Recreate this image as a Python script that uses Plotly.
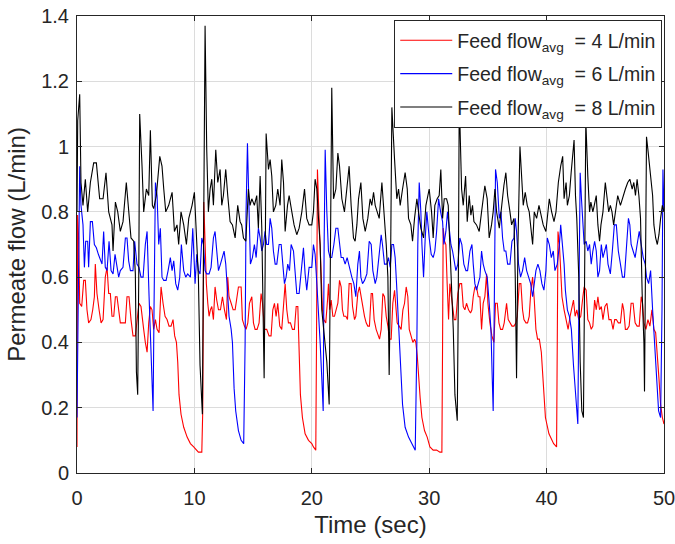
import plotly.graph_objects as go

# ---------------- data ----------------
black_t = [0.0, 0.06, 0.23, 0.34, 0.51, 0.71, 0.91, 1.14, 1.42, 1.65,
           1.93, 2.22, 2.47, 2.70, 2.98, 3.07, 3.27, 3.47, 3.69, 3.92,
           4.20, 4.40, 4.60, 4.83, 4.97, 5.06, 5.17, 5.26, 5.34, 5.54,
           5.68, 5.91, 6.11, 6.25, 6.42, 6.53, 6.76, 7.05, 7.24, 7.39,
           7.56, 7.81, 8.10, 8.30, 8.52, 8.66, 8.86, 9.09, 9.32, 9.52,
           9.80, 10.0,
           10.34, 10.48, 10.68, 10.91, 11.05, 11.19, 11.34, 11.48, 11.62, 11.82,
           11.99, 12.19, 12.33, 12.47, 12.67, 12.84, 13.04, 13.24, 13.47, 13.69,
           13.89, 14.03, 14.18, 14.38, 14.60, 14.74, 14.89, 15.11, 15.31, 15.45,
           15.60, 15.74, 15.82, 15.94, 16.02, 16.11, 16.31, 16.45, 16.59, 16.73,
           16.93, 17.10, 17.30, 17.44, 17.59, 17.73, 17.93, 18.07, 18.30, 18.49,
           18.72, 18.92, 19.15, 19.38, 19.57, 19.77,
           20.0, 20.14, 20.28, 20.43, 20.57, 20.71, 20.85, 21.08, 21.28, 21.48,
           21.59, 21.70, 21.85, 22.05, 22.22, 22.36, 22.56, 22.78, 22.98, 23.18,
           23.35, 23.55, 23.69, 23.84, 23.98, 24.18, 24.35, 24.55, 24.77, 24.97,
           25.11, 25.26, 25.40, 25.60, 25.74, 25.97, 26.19, 26.34, 26.48, 26.59,
           26.70, 26.82, 27.05, 27.24, 27.39, 27.53, 27.73, 27.95, 28.13, 28.24,
           28.44, 28.58, 28.75, 28.95, 29.09, 29.29, 29.52, 29.72,
           30.0, 30.2, 30.34, 30.48, 30.68, 30.85, 30.99, 31.14, 31.28, 31.48,
           31.62, 31.76, 31.90, 32.05, 32.19, 32.39, 32.47, 32.56, 32.76, 32.90,
           33.10, 33.24, 33.41, 33.55, 33.69, 33.81, 34.03, 34.26, 34.46, 34.60,
           34.74, 34.94, 35.11, 35.31, 35.45, 35.60, 35.74, 35.97, 36.16, 36.36,
           36.53, 36.68, 36.88, 37.02, 37.22, 37.33, 37.44, 37.56, 37.73, 37.87,
           38.01, 38.18, 38.35, 38.52, 38.66, 38.81, 38.95, 39.15, 39.35, 39.57,
           39.71, 39.94, 40.06, 40.23, 40.43, 40.63, 40.80, 41.00, 41.20, 41.37,
           41.49, 41.66, 41.77, 41.94, 42.09, 42.23, 42.34, 42.46, 42.57, 42.74,
           42.86, 43.00, 43.14, 43.26, 43.34, 43.51, 43.66, 43.77, 43.94, 44.06,
           44.23, 44.37, 44.51, 44.63, 44.80, 45.00, 45.14, 45.29, 45.43, 45.57,
           45.71, 45.86, 46.06, 46.29, 46.51, 46.71, 46.91, 47.09, 47.29, 47.43,
           47.57, 47.71, 47.86, 48.00, 48.14, 48.29, 48.34, 48.43, 48.51, 48.63,
           48.80, 48.91, 49.03, 49.14, 49.29, 49.43, 49.57, 49.71, 49.86, 50.0]
black_v = [0.80, 1.08, 1.16, 0.89, 0.82, 0.90, 0.80, 0.89, 0.95, 0.95,
           0.84, 0.84, 0.92, 0.80, 0.76, 0.68, 0.83, 0.80, 0.74, 0.77,
           0.89, 0.80, 0.72, 0.71, 0.61, 0.31, 0.24, 0.60, 1.10, 0.94,
           0.80, 0.87, 0.85, 1.05, 0.82, 0.81, 0.85, 0.97, 0.94, 0.87,
           0.80, 0.82, 0.86, 0.74, 0.76, 0.70, 0.80, 0.76, 0.70, 0.78,
           0.82, 0.86,
           0.60, 0.33, 0.18, 1.37, 0.99, 0.80, 0.87, 0.90, 0.82, 0.99,
           0.89, 0.93, 0.82, 0.85, 0.93, 0.85, 0.77, 0.76, 0.72, 0.82,
           0.77, 0.76, 0.72, 0.71, 0.87, 0.82, 0.84, 0.82, 0.85, 0.75,
           0.91, 0.75, 0.50, 0.29, 0.60, 1.04, 0.93, 0.96, 0.91, 0.80,
           0.82, 0.87, 0.82, 0.96, 0.89, 0.74, 0.82, 0.85, 0.80, 0.76,
           0.73, 0.75, 0.80, 0.87, 0.78, 0.76,
           0.76, 0.80, 0.90, 0.87, 0.78, 0.70, 0.50, 0.41, 0.34, 0.21,
           0.70, 1.18, 0.84, 0.87, 0.98, 0.94, 0.84, 0.80, 0.87, 0.94,
           0.82, 0.72, 0.71, 0.76, 0.84, 0.89, 0.78, 0.74, 0.78, 0.84,
           0.82, 0.86, 0.82, 0.80, 0.78, 0.89, 0.78, 0.70, 0.60, 0.30,
           0.60, 1.12, 0.96, 0.84, 0.87, 0.82, 0.87, 0.92, 0.87, 0.78,
           0.76, 0.71, 0.78, 0.84, 0.80, 0.75, 0.72, 0.82,
           0.87, 0.80, 0.72, 0.82, 0.84, 0.85, 0.93, 0.78, 0.84, 0.84,
           0.82, 0.70, 0.60, 0.44, 0.24, 0.16, 0.50, 1.15, 0.87, 0.82,
           0.91, 0.77, 0.85, 0.79, 0.82, 0.77, 0.76, 0.74, 0.80, 0.84,
           0.88, 0.84, 0.72, 0.76, 0.80, 0.87, 0.80, 0.75, 0.82, 0.88,
           0.92, 0.85, 0.80, 0.76, 0.78, 0.60, 0.29, 0.70, 1.00, 0.91,
           0.82, 0.86, 0.82, 0.80, 0.74, 0.70, 0.80, 0.78, 0.82, 0.78,
           0.76, 0.74, 0.78, 0.84, 0.80, 0.77, 0.80, 0.89, 0.94, 0.97,
           0.84, 0.89, 0.82, 0.85, 0.92, 0.97, 1.02, 0.85, 0.78, 0.60,
           0.34, 0.19, 0.17, 0.70, 1.08, 0.91, 0.80, 0.83, 0.80, 0.82,
           0.85, 0.76, 0.71, 0.76, 0.80, 0.89, 0.85, 0.80, 0.82, 0.80,
           0.76, 0.80, 0.85, 0.82, 0.85, 0.87, 0.89, 0.90, 0.87, 0.89,
           0.85, 0.90, 0.85, 0.78, 0.55, 0.40, 0.25, 0.70, 1.03, 0.99,
           0.93, 0.89, 0.85, 0.76, 0.72, 0.70, 0.73, 0.78, 0.82, 0.80]

blue_t = [0.0, 0.23, 0.34, 0.51, 0.63, 0.74, 0.91, 0.99, 1.14, 1.31,
          1.48, 1.65, 1.82, 1.93, 2.13, 2.27, 2.41, 2.56, 2.73, 2.90,
          3.07, 3.24, 3.41, 3.55, 3.69, 3.92, 4.12, 4.26, 4.40, 4.55,
          4.77, 4.91, 5.11, 5.28, 5.45, 5.63, 5.82, 5.97, 6.14, 6.25,
          6.36, 6.48, 6.56, 6.68, 6.82, 6.96, 7.10, 7.24, 7.39, 7.59,
          7.76, 7.95, 8.10, 8.24, 8.41, 8.58, 8.75, 8.89, 9.09, 9.26,
          9.43, 9.66, 9.86,
          10.06, 10.20, 10.34, 10.48, 10.63, 10.77, 10.91, 11.05, 11.25, 11.42,
          11.62, 11.76, 11.90, 12.05, 12.22, 12.39, 12.53, 12.67, 12.81, 12.95,
          13.13, 13.24, 13.38, 13.52, 13.75, 13.98, 14.20, 14.32, 14.40, 14.52,
          14.66, 14.77, 14.94, 15.11, 15.26, 15.45, 15.60, 15.74, 15.88, 16.02,
          16.16, 16.31, 16.45, 16.59, 16.73, 16.88, 17.02, 17.22, 17.39, 17.53,
          17.67, 17.81, 17.95, 18.10, 18.24, 18.44, 18.58, 18.72, 18.92, 19.09,
          19.29, 19.43, 19.57, 19.77,
          20.0, 20.14, 20.28, 20.43, 20.57, 20.71, 20.85, 20.97, 21.05, 21.14,
          21.28, 21.42, 21.56, 21.70, 21.88, 22.05, 22.22, 22.36, 22.50, 22.67,
          22.84, 23.01, 23.13, 23.27, 23.41, 23.58, 23.75, 23.92, 24.06, 24.18,
          24.32, 24.49, 24.69, 24.89, 25.06, 25.20, 25.40, 25.54, 25.74, 25.91,
          26.02, 26.19, 26.39, 26.53, 26.68, 26.82, 26.96, 27.10, 27.22, 27.33,
          27.44, 27.59, 27.73, 27.95, 28.24, 28.52, 28.81, 28.95, 29.03, 29.15,
          29.29, 29.38, 29.52, 29.66, 29.80,
          30.0, 30.17, 30.34, 30.48, 30.63, 30.80, 30.97, 31.14, 31.25, 31.42,
          31.56, 31.70, 31.85, 31.99, 32.10, 32.27, 32.44, 32.61, 32.78, 32.95,
          33.13, 33.27, 33.47, 33.64, 33.75, 33.89, 34.03, 34.18, 34.32, 34.46,
          34.60, 34.74, 34.94, 35.11, 35.26, 35.37, 35.45, 35.54, 35.65, 35.80,
          35.97, 36.11, 36.25, 36.39, 36.53, 36.68, 36.88, 37.05, 37.22, 37.33,
          37.44, 37.61, 37.78, 37.95, 38.13, 38.30, 38.47, 38.64, 38.81, 38.95,
          39.09, 39.26, 39.43, 39.60, 39.77, 39.94,
          40.06, 40.23, 40.40, 40.57, 40.71, 40.91, 41.09, 41.20, 41.37, 41.49,
          41.60, 41.77, 41.94, 42.11, 42.29, 42.46, 42.66, 42.77, 42.86, 42.97,
          43.09, 43.20, 43.37, 43.51, 43.66, 43.80, 43.94, 44.09, 44.23, 44.37,
          44.51, 44.66, 44.80, 44.94, 45.09, 45.23, 45.43, 45.60, 45.77, 45.94,
          46.11, 46.29, 46.46, 46.63, 46.80, 46.97, 47.09, 47.20, 47.37, 47.54,
          47.71, 47.89, 48.06, 48.23, 48.40, 48.51, 48.69, 48.86, 49.03, 49.20,
          49.37, 49.54, 49.71, 49.83, 49.91, 50.0]
blue_v = [0.17, 0.94, 0.82, 0.76, 0.63, 0.71, 0.71, 0.63, 0.77, 0.77,
          0.70, 0.69, 0.67, 0.66, 0.64, 0.74, 0.63, 0.62, 0.71, 0.62,
          0.61, 0.67, 0.63, 0.60, 0.62, 0.63, 0.72, 0.72, 0.65, 0.62,
          0.62, 0.71, 0.64, 0.63, 0.60, 0.60, 0.70, 0.74, 0.54, 0.40,
          0.29, 0.19, 0.50, 0.89, 0.85, 0.70, 0.75, 0.60, 0.59, 0.59,
          0.62, 0.66, 0.62, 0.65, 0.58, 0.56, 0.60, 0.70, 0.62, 0.60,
          0.61, 0.60, 0.75,
          0.58, 0.67, 0.62, 0.61, 0.72, 0.70, 0.62, 0.61, 0.61, 0.63,
          0.72, 0.74, 0.67, 0.62, 0.64, 0.66, 0.68, 0.64, 0.54, 0.48,
          0.44, 0.40, 0.26, 0.19, 0.13, 0.10, 0.09, 0.40, 0.80, 1.01,
          0.80, 0.64, 0.66, 0.70, 0.66, 0.75, 0.72, 0.68, 0.70, 0.74,
          0.70, 0.70, 0.78, 0.75, 0.68, 0.64, 0.64, 0.70, 0.70, 0.64,
          0.58, 0.60, 0.64, 0.62, 0.70, 0.68, 0.62, 0.55, 0.55, 0.62,
          0.69, 0.61, 0.56, 0.63,
          0.63, 0.70, 0.67, 0.58, 0.50, 0.40, 0.29, 0.19, 0.70, 0.99,
          0.80, 0.68, 0.66, 0.66, 0.70, 0.75, 0.75, 0.70, 0.66, 0.66,
          0.64, 0.66, 0.64, 0.62, 0.60, 0.58, 0.54, 0.64, 0.68, 0.60,
          0.58, 0.59, 0.61, 0.71, 0.70, 0.62, 0.58, 0.60, 0.66, 0.73,
          0.70, 0.64, 0.64, 0.66, 0.63, 0.70, 0.70, 0.66, 0.58, 0.50,
          0.40, 0.29, 0.21, 0.14, 0.11, 0.09, 0.07, 0.40, 0.70, 0.89,
          0.80, 0.70, 0.60, 0.72, 0.80,
          0.72, 0.67, 0.66, 0.68, 0.74, 0.84, 0.80, 0.77, 0.70, 0.74,
          0.80, 0.76, 0.70, 0.68, 0.66, 0.62, 0.64, 0.72, 0.70, 0.64,
          0.62, 0.62, 0.68, 0.70, 0.64, 0.58, 0.56, 0.58, 0.60, 0.68,
          0.64, 0.62, 0.60, 0.52, 0.44, 0.29, 0.19, 0.50, 0.93, 0.89,
          0.78, 0.80, 0.72, 0.68, 0.68, 0.64, 0.64, 0.71, 0.72, 0.78,
          0.74, 0.64, 0.60, 0.62, 0.66, 0.62, 0.60, 0.58, 0.54, 0.58,
          0.62, 0.64, 0.62, 0.58, 0.56, 0.62,
          0.72, 0.70, 0.66, 0.68, 0.62, 0.64, 0.70, 0.76, 0.70, 0.64,
          0.56, 0.50, 0.48, 0.44, 0.33, 0.24, 0.15, 0.60, 0.92, 0.84,
          0.76, 0.70, 0.71, 0.68, 0.70, 0.64, 0.68, 0.71, 0.68, 0.60,
          0.62, 0.70, 0.66, 0.68, 0.70, 0.64, 0.61, 0.68, 0.76, 0.76,
          0.68, 0.64, 0.60, 0.60, 0.70, 0.78, 0.76, 0.70, 0.68, 0.66,
          0.70, 0.74, 0.70, 0.66, 0.64, 0.60, 0.58, 0.62, 0.50, 0.40,
          0.29, 0.19, 0.17, 0.50, 0.93, 0.80]

red_t = [0.0, 0.05, 0.14, 0.23, 0.40, 0.57, 0.71, 0.85, 0.99, 1.19,
         1.34, 1.48, 1.56, 1.70, 1.88, 2.05, 2.22, 2.41, 2.56, 2.70,
         2.84, 2.98, 3.13, 3.27, 3.41, 3.55, 3.69, 3.92, 4.12, 4.26,
         4.43, 4.60, 4.77, 4.97, 5.11, 5.28, 5.45, 5.57, 5.68, 5.82,
         5.97, 6.11, 6.25, 6.39, 6.53, 6.68, 6.82, 6.99, 7.16, 7.33,
         7.50, 7.67, 7.84, 8.01, 8.18, 8.32, 8.47, 8.58, 8.69, 8.86,
         9.09, 9.38, 9.66, 9.94,
         10.34, 10.63, 10.71, 10.80, 10.91, 11.02, 11.14, 11.25, 11.36, 11.48,
         11.62, 11.76, 11.90, 12.05, 12.22, 12.39, 12.56, 12.73, 12.84, 12.95,
         13.13, 13.30, 13.47, 13.61, 13.75, 13.98, 14.09, 14.26, 14.40, 14.55,
         14.69, 14.89, 15.03, 15.17, 15.34, 15.51, 15.68, 15.80, 15.97, 16.16,
         16.36, 16.53, 16.68, 16.82, 16.96, 17.10, 17.27, 17.44, 17.61, 17.73,
         17.87, 18.01, 18.18, 18.35, 18.52, 18.67, 18.81, 18.92, 19.03, 19.20,
         19.43, 19.72, 20.00,
         20.14, 20.34, 20.40, 20.48, 20.60, 20.71, 20.80, 20.91, 21.02, 21.19,
         21.34, 21.42, 21.53, 21.65, 21.79, 21.93, 22.07, 22.22, 22.36, 22.50,
         22.61, 22.73, 22.90, 23.04, 23.18, 23.35, 23.47, 23.64, 23.75, 23.92,
         24.06, 24.20, 24.35, 24.49, 24.63, 24.77, 24.91, 25.06, 25.17, 25.31,
         25.48, 25.63, 25.77, 25.91, 26.05, 26.19, 26.34, 26.48, 26.62, 26.76,
         26.90, 27.05, 27.16, 27.27, 27.44, 27.61, 27.76, 27.90, 28.04, 28.18,
         28.30, 28.47, 28.61, 28.75, 28.86, 28.98, 29.09, 29.23, 29.38, 29.60,
         29.83,
         30.06, 30.34, 30.63, 30.91, 31.08, 31.14, 31.19, 31.31, 31.42, 31.53,
         31.65, 31.76, 31.88, 31.99, 32.13, 32.27, 32.44, 32.61, 32.76, 32.90,
         33.04, 33.18, 33.35, 33.52, 33.64, 33.75, 33.89, 34.03, 34.18, 34.32,
         34.46, 34.60, 34.74, 34.89, 35.00, 35.17, 35.34, 35.51, 35.65, 35.80,
         35.94, 36.08, 36.25, 36.39, 36.59, 36.73, 36.88, 37.05, 37.22, 37.39,
         37.50, 37.67, 37.81, 37.95, 38.07, 38.24, 38.38, 38.52, 38.66, 38.81,
         38.95, 39.09, 39.23, 39.38, 39.55, 39.70, 39.90, 40.20, 40.60, 40.85,
         40.97, 41.09, 41.20, 41.31, 41.49, 41.66, 41.83, 42.00, 42.14, 42.29,
         42.43, 42.57, 42.74, 42.91, 43.09, 43.20, 43.37, 43.51, 43.66, 43.80,
         43.94, 44.09, 44.23, 44.37, 44.51, 44.66, 44.80, 44.97, 45.14, 45.31,
         45.49, 45.66, 45.80, 45.94, 46.11, 46.29, 46.46, 46.57, 46.71, 46.86,
         47.03, 47.20, 47.37, 47.54, 47.71, 47.89, 48.06, 48.17, 48.29, 48.46,
         48.63, 48.80, 48.97, 49.14, 49.29, 49.43, 49.57, 49.71, 49.86, 50.0]
red_v = [0.08, 0.79, 0.72, 0.52, 0.51, 0.59, 0.59, 0.50, 0.46, 0.47,
         0.50, 0.54, 0.64, 0.55, 0.50, 0.46, 0.47, 0.60, 0.63, 0.55,
         0.55, 0.48, 0.48, 0.54, 0.54, 0.50, 0.46, 0.46, 0.46, 0.54,
         0.54, 0.47, 0.42, 0.42, 0.47, 0.52, 0.51, 0.46, 0.44, 0.40,
         0.37, 0.46, 0.51, 0.50, 0.44, 0.47, 0.44, 0.43, 0.57, 0.52,
         0.48, 0.47, 0.45, 0.45, 0.47, 0.42, 0.40, 0.34, 0.24, 0.18,
         0.14, 0.11, 0.09, 0.08,
         0.064, 0.064, 0.19, 0.83, 0.70, 0.58, 0.52, 0.48, 0.50, 0.51,
         0.47, 0.57, 0.53, 0.50, 0.50, 0.54, 0.50, 0.47, 0.60, 0.54,
         0.52, 0.50, 0.50, 0.54, 0.57, 0.57, 0.47, 0.45, 0.44, 0.46,
         0.52, 0.54, 0.46, 0.44, 0.44, 0.46, 0.55, 0.52, 0.44, 0.44,
         0.42, 0.42, 0.50, 0.52, 0.48, 0.52, 0.45, 0.44, 0.52, 0.58,
         0.50, 0.46, 0.46, 0.44, 0.44, 0.51, 0.51, 0.34, 0.24, 0.17,
         0.12, 0.10, 0.09,
         0.08, 0.07, 0.40, 0.93, 0.80, 0.68, 0.55, 0.50, 0.47, 0.46,
         0.53, 0.58, 0.50, 0.53, 0.48, 0.48, 0.50, 0.52, 0.59, 0.57,
         0.50, 0.48, 0.48, 0.47, 0.58, 0.58, 0.51, 0.47, 0.48, 0.55,
         0.57, 0.54, 0.50, 0.48, 0.46, 0.45, 0.45, 0.55, 0.55, 0.47,
         0.44, 0.42, 0.41, 0.44, 0.55, 0.54, 0.48, 0.45, 0.41, 0.41,
         0.52, 0.56, 0.50, 0.46, 0.45, 0.44, 0.50, 0.52, 0.57, 0.54,
         0.44, 0.42, 0.40, 0.41, 0.40, 0.36, 0.29, 0.23, 0.17, 0.13,
         0.11,
         0.08, 0.07, 0.07, 0.064, 0.064, 0.40, 0.75, 0.71, 0.70, 0.58,
         0.47, 0.58, 0.54, 0.52, 0.47, 0.47, 0.55, 0.58, 0.58, 0.51,
         0.50, 0.52, 0.50, 0.49, 0.50, 0.54, 0.57, 0.57, 0.54, 0.54,
         0.44, 0.52, 0.54, 0.61, 0.52, 0.46, 0.42, 0.40, 0.52, 0.52,
         0.46, 0.44, 0.44, 0.46, 0.52, 0.47, 0.46, 0.45, 0.45, 0.46,
         0.48, 0.58, 0.58, 0.50, 0.47, 0.46, 0.46, 0.48, 0.56, 0.60,
         0.53, 0.44, 0.41, 0.41, 0.37, 0.27, 0.17, 0.12, 0.09, 0.08,
         0.74, 0.70, 0.60, 0.54, 0.50, 0.47, 0.44, 0.48, 0.50, 0.53,
         0.48, 0.50, 0.47, 0.48, 0.54, 0.57, 0.56, 0.47, 0.46, 0.44,
         0.45, 0.53, 0.50, 0.54, 0.50, 0.51, 0.47, 0.51, 0.52, 0.47,
         0.47, 0.44, 0.47, 0.47, 0.46, 0.46, 0.52, 0.50, 0.44, 0.44,
         0.45, 0.52, 0.52, 0.46, 0.45, 0.45, 0.54, 0.52, 0.46, 0.44,
         0.47, 0.45, 0.50, 0.44, 0.43, 0.37, 0.29, 0.21, 0.17, 0.15]

series_names = ["Feed flow<sub>avg</sub>\u00a0 = 4 L/min",
                "Feed flow<sub>avg</sub>\u00a0 = 6 L/min",
                "Feed flow<sub>avg</sub>\u00a0 = 8 L/min"]
series_colors = ["#ff0000", "#0000ff", "#000000"]
x_ticks = [0, 10, 20, 30, 40, 50]
y_ticks = [0, 0.2, 0.4, 0.6, 0.8, 1.0, 1.2, 1.4]
y_tick_text = ["0", "0.2", "0.4", "0.6", "0.8", "1", "1.2", "1.4"]

# ---------------- figure ----------------
FONT = "Liberation Sans, Arial, Helvetica, sans-serif"
INK = "#262626"

fig = go.Figure()
for i, (t, v, name, col) in enumerate([(red_t, red_v, series_names[0], series_colors[0]),
                                       (blue_t, blue_v, series_names[1], series_colors[1]),
                                       (black_t, black_v, series_names[2], series_colors[2])]):
    fig.add_trace(go.Scatter(x=t, y=v, mode="lines", name=name, legendgroup=f"g{i}",
                             line=dict(color=col, width=1.1)))

axis_common = dict(showline=True, linecolor=INK, linewidth=1, mirror="ticks",
                   ticks="inside", ticklen=5, tickcolor=INK, tickwidth=1,
                   showgrid=True, gridcolor="#dcdcdc", gridwidth=1,
                   zeroline=False, ticklabeloverflow="allow",
                   tickfont=dict(family=FONT, size=20, color=INK))

fig.update_xaxes(range=[0, 50], tickvals=x_ticks, ticklabelstandoff=7,
                 title=dict(text="Time (sec)", font=dict(family=FONT, size=24, color=INK), standoff=8),
                 **axis_common)
fig.update_yaxes(range=[0, 1.4], tickvals=y_ticks, ticktext=y_tick_text, ticklabelstandoff=3,
                 title=dict(text="Permeate flow (L/min)", font=dict(family=FONT, size=24, color=INK), standoff=8),
                 **axis_common)

fig.update_layout(
    width=675, height=544,
    margin=dict(l=77, r=11, t=16, b=71, autoexpand=False),
    paper_bgcolor="white", plot_bgcolor="white",
    font=dict(family=FONT, color=INK),
    showlegend=True,
    legend=dict(x=0.997, y=0.991, xanchor="right", yanchor="top",
                bgcolor="white", bordercolor=INK, borderwidth=1,
                font=dict(family=FONT, size=19.5, color=INK),
                itemwidth=52, tracegroupgap=5),
)

fig.write_html("out.html", config={"displayModeBar": False},
               post_script="document.body.style.margin='0px';")
